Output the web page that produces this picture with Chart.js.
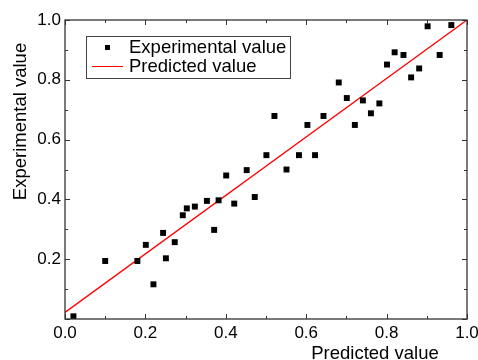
<!DOCTYPE html>
<html>
<head>
<meta charset="utf-8">
<script src="https://cdn.jsdelivr.net/npm/chart.js@4"></script>
<style>
html,body{margin:0;padding:0;background:#fff;}
#wrap{width:478px;height:360px;}
</style>
</head>
<body>
<div id="wrap"><canvas id="c" width="478" height="360"></canvas></div>
<script>
const expX = [0.021,0.100,0.180,0.201,0.220,0.244,0.251,0.273,0.293,0.303,0.323,0.353,0.371,0.382,0.401,0.421,0.452,0.472,0.501,0.521,0.551,0.582,0.603,0.622,0.643,0.681,0.701,0.721,0.741,0.761,0.782,0.801,0.820,0.842,0.861,0.881,0.902,0.932,0.961];
const expY = [0.009,0.194,0.194,0.248,0.116,0.288,0.203,0.257,0.347,0.370,0.376,0.395,0.298,0.397,0.480,0.386,0.498,0.408,0.548,0.679,0.500,0.548,0.649,0.548,0.679,0.791,0.739,0.649,0.731,0.688,0.721,0.851,0.892,0.883,0.808,0.838,0.979,0.883,0.983];
const predX = [0, 1];
const predY = [0.022, 1.0];
const xTicks = [0, 0.2, 0.4, 0.6, 0.8, 1.0];
const yTicks = [0.2, 0.4, 0.6, 0.8, 1.0];
const seriesNames = ['Experimental value', 'Predicted value'];
const axisTitles = ['Predicted value', 'Experimental value'];

const FONT = '"Liberation Sans", Arial, sans-serif';

const framePlugin = {
  id: 'frame',
  afterDraw(chart) {
    const ctx = chart.ctx;
    const a = chart.chartArea;
    const xs = chart.scales.x, ys = chart.scales.y;
    ctx.save();
    ctx.strokeStyle = '#333';
    ctx.lineWidth = 1.3;
    ctx.strokeRect(a.left, a.top, a.right - a.left, a.bottom - a.top);
    ctx.lineWidth = 1;
    for (let v = 0; v <= 10; v++) {
      const val = v / 10;
      const major = v % 2 === 0;
      const len = major ? 5 : 3;
      const px = Math.round(xs.getPixelForValue(val)) + 0.5;
      ctx.beginPath();
      ctx.moveTo(px, a.bottom); ctx.lineTo(px, a.bottom - len);
      ctx.moveTo(px, a.top); ctx.lineTo(px, a.top + len);
      const py = Math.round(ys.getPixelForValue(val)) + 0.5;
      ctx.moveTo(a.left, py); ctx.lineTo(a.left + len, py);
      ctx.moveTo(a.right, py); ctx.lineTo(a.right - len, py);
      ctx.stroke();
    }
    // axis titles
    ctx.fillStyle = '#000';
    ctx.font = '18.5px ' + FONT;
    ctx.textAlign = 'center';
    ctx.textBaseline = 'middle';
    ctx.fillText(axisTitles[0], (a.left + a.right) / 2 + 109, 354);
    ctx.save();
    ctx.translate(21, (a.top + a.bottom) / 2 - 48);
    ctx.rotate(-Math.PI / 2);
    ctx.fillText(axisTitles[1], 0, 0);
    ctx.restore();
    // legend box
    const lx = a.left + 21, ly = a.top + 16, lw = 204, lh = 42;
    ctx.fillStyle = '#fff';
    ctx.fillRect(lx, ly, lw, lh);
    ctx.strokeStyle = '#444';
    ctx.lineWidth = 1;
    ctx.strokeRect(lx + 0.5, ly + 0.5, lw, lh);
    ctx.fillStyle = '#000';
    ctx.fillRect(lx + 19, ly + 9, 5, 5);
    ctx.strokeStyle = '#ff0000';
    ctx.beginPath();
    ctx.moveTo(lx + 6, ly + 30.5); ctx.lineTo(lx + 37, ly + 30.5);
    ctx.stroke();
    ctx.fillStyle = '#000';
    ctx.textAlign = 'left';
    ctx.font = '18.5px ' + FONT;
    ctx.fillText(seriesNames[0], lx + 43, ly + 12);
    ctx.fillText(seriesNames[1], lx + 43, ly + 31);
    ctx.restore();
  }
};

new Chart(document.getElementById('c'), {
  type: 'scatter',
  data: {
    datasets: [
      {
        label: seriesNames[1],
        type: 'line',
        data: predX.map((x, i) => ({x, y: predY[i]})),
        borderColor: '#ff0000',
        borderWidth: 1.3,
        pointRadius: 0,
        fill: false,
        order: 2
      },
      {
        label: seriesNames[0],
        data: expX.map((x, i) => ({x, y: expY[i]})),
        pointStyle: 'rect',
        pointRadius: 4.2,
        pointBackgroundColor: '#000',
        pointBorderWidth: 0,
        order: 1
      }
    ]
  },
  options: {
    responsive: false,
    animation: false,
    layout: { padding: { top: 20, right: 11, left: 0, bottom: 0 } },
    plugins: { legend: { display: false }, tooltip: { enabled: false } },
    scales: {
      x: {
        type: 'linear', min: 0, max: 1,
        grid: { display: false, drawTicks: false },
        border: { display: false },
        afterBuildTicks(s) { s.ticks = xTicks.map(v => ({value: v})); },
        afterFit(s) { s.height = 41; s.paddingLeft = 0; s.paddingRight = 0; },
        ticks: {
          color: '#000', padding: 4,
          font: { family: FONT, size: 17 },
          callback: v => v.toFixed(1)
        }
      },
      y: {
        type: 'linear', min: 0, max: 1,
        grid: { display: false, drawTicks: false },
        border: { display: false },
        afterBuildTicks(s) { s.ticks = yTicks.map(v => ({value: v})); },
        afterFit(s) { s.width = 65; s.paddingTop = 0; s.paddingBottom = 0; },
        ticks: {
          color: '#000', padding: 4,
          font: { family: FONT, size: 17 },
          callback: v => v.toFixed(1)
        }
      }
    }
  },
  plugins: [framePlugin]
});
</script>
</body>
</html>
